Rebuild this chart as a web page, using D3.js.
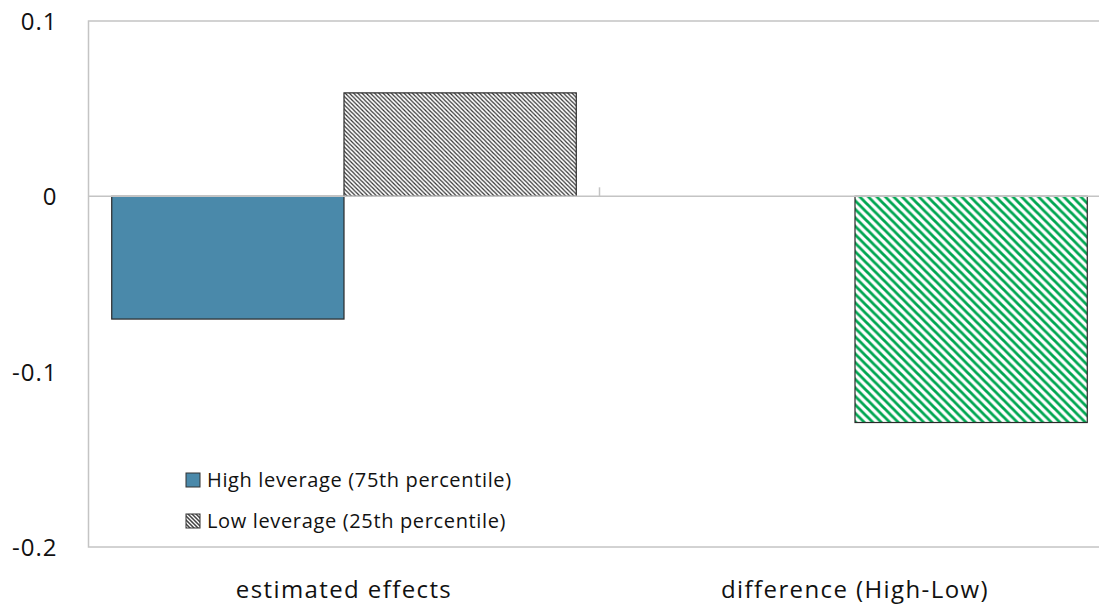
<!DOCTYPE html>
<html><head><meta charset="utf-8">
<script src="https://cdn.jsdelivr.net/npm/d3@7"></script>
<style>body{margin:0;background:#fff;}svg{display:block;font-family:"Open Sans","Noto Sans",sans-serif;}</style>
</head><body>
<svg id="c" width="1099" height="610"></svg>
<script>
const categories = ["estimated effects", "difference (High-Low)"];
const seriesNames = ["High leverage (75th percentile)", "Low leverage (25th percentile)"];
const highValues = [-0.07, null];
const lowValues = [0.059, null];
const diffValues = [null, -0.129];
const yTicks = [0.1, 0, -0.1, -0.2];
const yTickLabels = ["0.1", "0", "-0.1", "-0.2"];

const svg = d3.select("#c");
const mLeft = 88.5, mRight = 1110.5, mTop = 21, mBottom = 547;
const x = d3.scaleBand().domain(categories).range([mLeft, mRight]).paddingInner(0).paddingOuter(0);
const inner = d3.scaleBand().domain([0, 1]).range([0, x.bandwidth()]).paddingInner(0).paddingOuter(0.1);
const y = d3.scaleLinear().domain([-0.2, 0.1]).range([mBottom, mTop]);

const defs = svg.append("defs");
const p1 = defs.append("pattern").attr("id", "hatchBlack").attr("patternUnits", "userSpaceOnUse").attr("width", 4.2).attr("height", 4.2);
p1.append("rect").attr("width", 4.2).attr("height", 4.2).attr("fill", "#fff");
p1.append("path").attr("d", "M0,0L4.2,4.2M-1,3.2L1,5.2M3.2,-1L5.2,1").attr("stroke", "#333").attr("stroke-width", 1.2);
const p2 = defs.append("pattern").attr("id", "hatchGreen").attr("patternUnits", "userSpaceOnUse").attr("width", 8.5).attr("height", 8.5);
p2.append("rect").attr("width", 8.5).attr("height", 8.5).attr("fill", "#fff");
p2.append("path").attr("d", "M0,0L8.5,8.5M-2,6.5L2,10.5M6.5,-2L10.5,2").attr("stroke", "#00a651").attr("stroke-width", 2.8);
const p3 = defs.append("pattern").attr("id", "hatchLegend").attr("patternUnits", "userSpaceOnUse").attr("width", 4).attr("height", 4);
p3.append("rect").attr("width", 4).attr("height", 4).attr("fill", "#444");
p3.append("path").attr("d", "M0,0L4,4M-1,3L1,5M3,-1L5,1").attr("stroke", "#fff").attr("stroke-width", 1.3);

// frame
svg.append("rect").attr("x", mLeft).attr("y", mTop).attr("width", mRight - mLeft).attr("height", mBottom - mTop)
  .attr("fill", "none").attr("stroke", "#c4c4c4").attr("stroke-width", 1.5);

// y axis labels
const yAxis = d3.axisLeft(y).tickValues(yTicks).tickFormat((d, i) => yTickLabels[i]).tickSize(0).tickPadding(31);
const ya = svg.append("g").attr("transform", `translate(${mLeft},0)`).call(yAxis);
ya.select(".domain").remove();
ya.selectAll("text").attr("font-size", 24).attr("fill", "#111").attr("dy", "0.36em").attr("letter-spacing", 1)
  .attr("font-family", "'Open Sans','Noto Sans',sans-serif");

// bars
const bars = [];
categories.forEach((c, i) => {
  if (highValues[i] != null) bars.push({c, slot: 0, v: highValues[i], fill: "#4a89aa"});
  if (lowValues[i] != null) bars.push({c, slot: 1, v: lowValues[i], fill: "url(#hatchBlack)"});
  if (diffValues[i] != null) bars.push({c, slot: 1, v: diffValues[i], fill: "url(#hatchGreen)"});
});
svg.selectAll("rect.bar").data(bars).join("rect").attr("class", "bar")
  .attr("x", d => x(d.c) + inner(d.slot))
  .attr("width", inner.bandwidth())
  .attr("y", d => Math.min(y(0), y(d.v)))
  .attr("height", d => Math.abs(y(d.v) - y(0)))
  .attr("fill", d => d.fill)
  .attr("stroke", "#2a2a2a").attr("stroke-width", 1.2);

// zero line
svg.append("line").attr("x1", mLeft).attr("x2", mRight).attr("y1", y(0)).attr("y2", y(0))
  .attr("stroke", "#c4c4c4").attr("stroke-width", 1.5);
// category divider tick
svg.append("line").attr("x1", x(categories[1])).attr("x2", x(categories[1]))
  .attr("y1", y(0) - 9).attr("y2", y(0)).attr("stroke", "#c4c4c4").attr("stroke-width", 1.5);

// x labels
svg.selectAll("text.cat").data(categories).join("text").attr("class", "cat")
  .attr("x", d => x(d) + x.bandwidth() / 2).attr("y", 598)
  .attr("text-anchor", "middle").attr("font-size", 24).attr("letter-spacing", 1.4)
  .attr("fill", "#111").text(d => d);

// legend
const legend = [{name: seriesNames[0], fill: "#4a89aa"}, {name: seriesNames[1], fill: "url(#hatchLegend)"}];
const lg = svg.selectAll("g.lg").data(legend).join("g").attr("class", "lg")
  .attr("transform", (d, i) => `translate(186,${473 + i * 41})`);
lg.append("rect").attr("width", 14).attr("height", 14).attr("fill", d => d.fill).attr("stroke", "#333").attr("stroke-width", 1);
lg.append("text").attr("x", 21).attr("y", 7).attr("dy", "0.36em").attr("font-size", 20).attr("letter-spacing", 0.65)
  .attr("fill", "#111").text(d => d.name);
</script>
</body></html>
